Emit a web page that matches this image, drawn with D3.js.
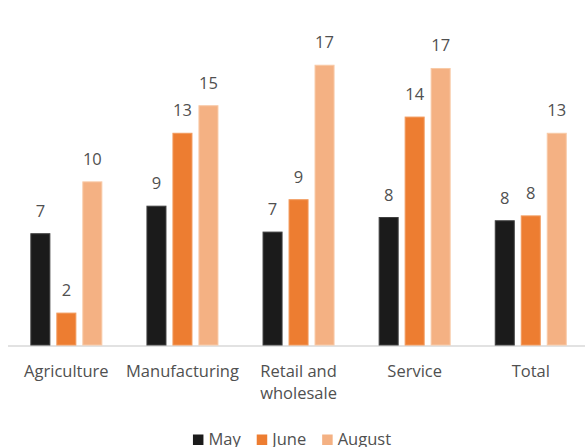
<!DOCTYPE html>
<html>
<head>
<meta charset="utf-8">
<script src="https://cdn.jsdelivr.net/npm/d3@7"></script>
<style>
  html, body { margin: 0; padding: 0; background: #ffffff; }
  svg { display: block; font-family: "Open Sans", "Noto Sans", sans-serif; }
</style>
</head>
<body>
<svg id="chart" width="585" height="447"></svg>
<script>
// Month-over-month figures by sector
const categories = ["Agriculture", "Manufacturing", "Retail and wholesale", "Service", "Total"];
const seriesNames = ["May", "June", "August"];
const mayValues    = [6.9, 8.6, 7.0, 7.9, 7.7];
const juneValues   = [2.0, 13.1, 9.0, 14.1, 8.0];
const augustValues = [10.1, 14.8, 17.3, 17.1, 13.1];
const seriesColors = ["#1b1b1b", "#ED7D31", "#F4B183"];
const strokeColors = ["#3f3f3f", "#f29a5c", "#f8c9a6"];
const categoryLines = [["Agriculture"], ["Manufacturing"], ["Retail and", "wholesale"], ["Service"], ["Total"]];

const seriesValues = [mayValues, juneValues, augustValues];
const rows = categories.map((c, i) => ({
  category: c,
  values: seriesNames.map((s, j) => ({ series: s, value: seriesValues[j][i], idx: j }))
}));

const svg = d3.select("#chart");
const textColor = "#505050";
const fontSize = 16.5;

const baseY = 345;
const y = d3.scaleLinear().domain([0, 20]).range([baseY, baseY - 324]);

const x0 = d3.scaleBand().domain(categories).range([8.3, 588.8]).paddingInner(0).paddingOuter(0);
const groupWidth = 72;
const x1 = d3.scaleBand().domain(seriesNames).range([0, groupWidth]).paddingInner(0.23).paddingOuter(0);
const groupOffset = (x0.bandwidth() - groupWidth) / 2;

// Category axis line
svg.append("line")
  .attr("x1", 8).attr("x2", 585)
  .attr("y1", baseY + 1).attr("y2", baseY + 1)
  .attr("stroke", "#d9d9d9").attr("stroke-width", 1.6);

const groups = svg.append("g").selectAll("g")
  .data(rows)
  .join("g")
  .attr("transform", d => `translate(${x0(d.category) + groupOffset},0)`);

groups.selectAll("rect")
  .data(d => d.values)
  .join("rect")
  .attr("x", d => x1(d.series) + 0.5)
  .attr("width", x1.bandwidth() - 1)
  .attr("y", d => y(d.value) + 0.5)
  .attr("height", d => baseY - y(d.value) - 0.5)
  .attr("fill", d => seriesColors[d.idx])
  .attr("stroke", d => strokeColors[d.idx])
  .attr("stroke-width", 1);

// Value labels above each bar
groups.selectAll("text.value")
  .data(d => d.values)
  .join("text")
  .attr("class", "value")
  .attr("x", d => x1(d.series) + x1.bandwidth() / 2)
  .attr("y", d => y(d.value) - 16.5)
  .attr("text-anchor", "middle")
  .attr("fill", textColor)
  .attr("font-size", fontSize)
  .text(d => Math.round(d.value));

// Category labels (wrapped where needed)
const catLabels = svg.append("g").selectAll("text")
  .data(categories)
  .join("text")
  .attr("x", d => x0(d) + x0.bandwidth() / 2)
  .attr("y", 376.5)
  .attr("text-anchor", "middle")
  .attr("fill", textColor)
  .attr("font-size", fontSize);

catLabels.selectAll("tspan")
  .data((d, i) => categoryLines[i])
  .join("tspan")
  .attr("x", function() { return this.parentNode.getAttribute("x"); })
  .attr("dy", (d, i) => i === 0 ? 0 : 22)
  .text(d => d);

// Legend
const legend = svg.append("g");
const legendItems = legend.selectAll("g")
  .data(seriesNames)
  .join("g");
legendItems.append("rect")
  .attr("width", 10.5).attr("height", 10.5)
  .attr("y", 434.5)
  .attr("fill", (d, i) => seriesColors[i]);
legendItems.append("text")
  .attr("x", 15.5)
  .attr("y", 444.5)
  .attr("fill", textColor)
  .attr("font-size", fontSize)
  .text(d => d);

let cursor = 0;
const positions = [];
legendItems.each(function() {
  const w = this.querySelector("text").getComputedTextLength() + 15.5;
  positions.push(cursor);
  cursor += w + 16;
});
const totalWidth = cursor - 16;
const startX = 292 - totalWidth / 2;
legendItems.attr("transform", (d, i) => `translate(${startX + positions[i]},0)`);
</script>
</body>
</html>
